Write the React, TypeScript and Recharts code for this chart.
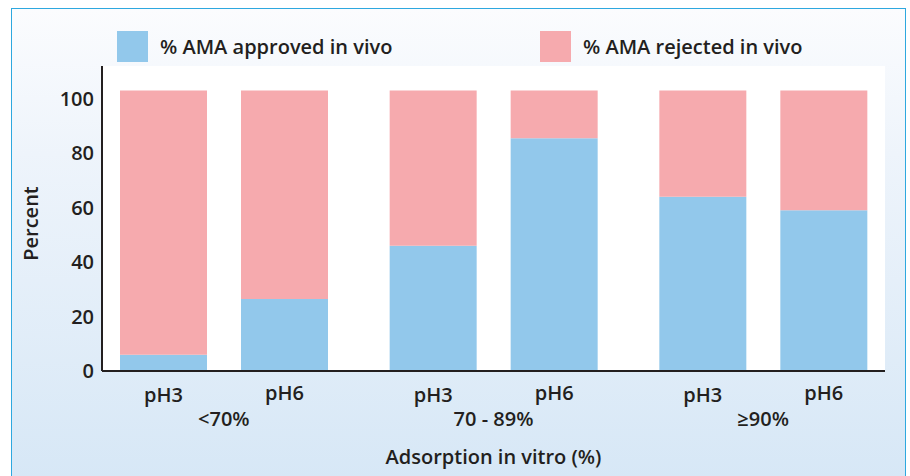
import React from 'react';
import { BarChart, Bar, XAxis, YAxis, CartesianGrid, Legend, LabelList } from 'recharts';

const groups = ['<70%', '70 - 89%', '≥90%'];
const phLabels = ['pH3', 'pH6'];
const approvedPH3 = [6, 46, 64];
const rejectedPH3 = [97, 57, 39];
const approvedPH6 = [26.4, 85.5, 59];
const rejectedPH6 = [76.6, 17.5, 44];
const yTicks = [0, 20, 40, 60, 80, 100];
const seriesNames = ['% AMA approved in vivo', '% AMA rejected in vivo'];

const data = groups.map((g, i) => ({
  group: g,
  approvedPH3: approvedPH3[i],
  rejectedPH3: rejectedPH3[i],
  approvedPH6: approvedPH6[i],
  rejectedPH6: rejectedPH6[i],
}));

const BLUE = '#92c8eb';
const PINK = '#f6aaae';
const TEXT = '#231f20';
const FONT = '"Open Sans", "Noto Sans", sans-serif';
const FS = 20;

const GroupTick = (props: any) => {
  const { x, y, payload } = props;
  return (
    <text x={x} y={y + 47} textAnchor="middle" fill={TEXT} fontSize={FS} fontWeight={600} fontFamily={FONT}>
      {payload.value}
    </text>
  );
};

const makePhLabel = (name: string, dy: number) => (props: any) => {
  const { x, y, width, height } = props;
  return (
    <text x={x + width / 2} y={y + height + dy} textAnchor="middle" fill={TEXT} fontSize={FS} fontWeight={600} fontFamily={FONT}>
      {name}
    </text>
  );
};

const LegendContent = (props: any) => {
  const { payload } = props;
  const seen = new Set<string>();
  const items = (payload || []).filter((p: any) => {
    if (p.type === 'none' || seen.has(p.value)) return false;
    seen.add(p.value);
    return true;
  });
  return (
    <div style={{ position: 'relative', height: 32, width: 910 }}>
      {items.map((p: any, i: number) => (
        <div
          key={i}
          style={{
            position: 'absolute',
            left: 117 + i * 423,
            top: 0,
            display: 'flex',
            alignItems: 'center',
            height: 31,
          }}
        >
          <div style={{ width: 31, height: 31, background: p.color }} />
          <span
            style={{
              marginLeft: 12,
              fontFamily: FONT,
              fontSize: FS,
              fontWeight: 600,
              color: TEXT,
              whiteSpace: 'nowrap',
            }}
          >
            {p.value}
          </span>
        </div>
      ))}
    </div>
  );
};

export default function App() {
  return (
    <div style={{ position: 'absolute', left: 0, top: 0, width: 910, height: 476, background: '#ffffff', overflow: 'hidden' }}>
      <div
        style={{
          position: 'absolute',
          left: 11,
          top: 8,
          width: 893,
          height: 480,
          border: '1.5px solid #2ea8df',
          background: 'linear-gradient(to bottom, #fbfcfe 0%, #eef4fb 30%, #d6e7f6 100%)',
        }}
      />
      <div style={{ position: 'absolute', left: 0, top: 0 }}>
        <BarChart
          width={910}
          height={476}
          data={data}
          margin={{ top: 66, right: 25, bottom: 75, left: 0 }}
          barGap={34}
          barSize={87}
        >
          <CartesianGrid fill="#ffffff" horizontal={false} vertical={false} stroke="none" />
          <XAxis
            dataKey="group"
            height={30}
            axisLine={{ stroke: TEXT, strokeWidth: 2 }}
            tickLine={false}
            tick={<GroupTick />}
            padding={{ left: -13, right: -13 }}
            interval={0}
            label={(p: any) => {
              const vb = p.viewBox || {};
              return (
                <text
                  x={vb.x + vb.width / 2}
                  y={vb.y + 93}
                  textAnchor="middle"
                  fill={TEXT}
                  fontSize={FS}
                  fontWeight={600}
                  fontFamily={FONT}
                >
                  Adsorption in vitro (%)
                </text>
              );
            }}
          />
          <YAxis
            width={102}
            domain={[0, 112]}
            ticks={yTicks}
            interval={0}
            axisLine={{ stroke: TEXT, strokeWidth: 2 }}
            tickLine={false}
            tick={{ fill: TEXT, fontSize: FS, fontWeight: 600, fontFamily: FONT }}
            label={(p: any) => {
              const vb = p.viewBox || {};
              const cx = 30;
              const cy = vb.y + vb.height / 2 + 5;
              return (
                <text
                  x={cx}
                  y={cy}
                  transform={`rotate(-90 ${cx} ${cy})`}
                  textAnchor="middle"
                  dominantBaseline="central"
                  fill={TEXT}
                  fontSize={FS}
                  fontWeight={600}
                  fontFamily={FONT}
                >
                  Percent
                </text>
              );
            }}
          />
          <Legend
            verticalAlign="middle"
            align="center"
            layout="horizontal"
            wrapperStyle={{ top: 31, left: 0, width: 910 }}
            content={<LegendContent />}
          />
          <Bar dataKey="approvedPH3" stackId="pH3" fill={BLUE} name={seriesNames[0]} isAnimationActive={false}>
            <LabelList content={makePhLabel(phLabels[0], 31)} />
          </Bar>
          <Bar dataKey="rejectedPH3" stackId="pH3" fill={PINK} name={seriesNames[1]} isAnimationActive={false} />
          <Bar dataKey="approvedPH6" stackId="pH6" fill={BLUE} name={seriesNames[0]} legendType="none" isAnimationActive={false}>
            <LabelList content={makePhLabel(phLabels[1], 29)} />
          </Bar>
          <Bar dataKey="rejectedPH6" stackId="pH6" fill={PINK} name={seriesNames[1]} legendType="none" isAnimationActive={false} />
        </BarChart>
      </div>
    </div>
  );
}
